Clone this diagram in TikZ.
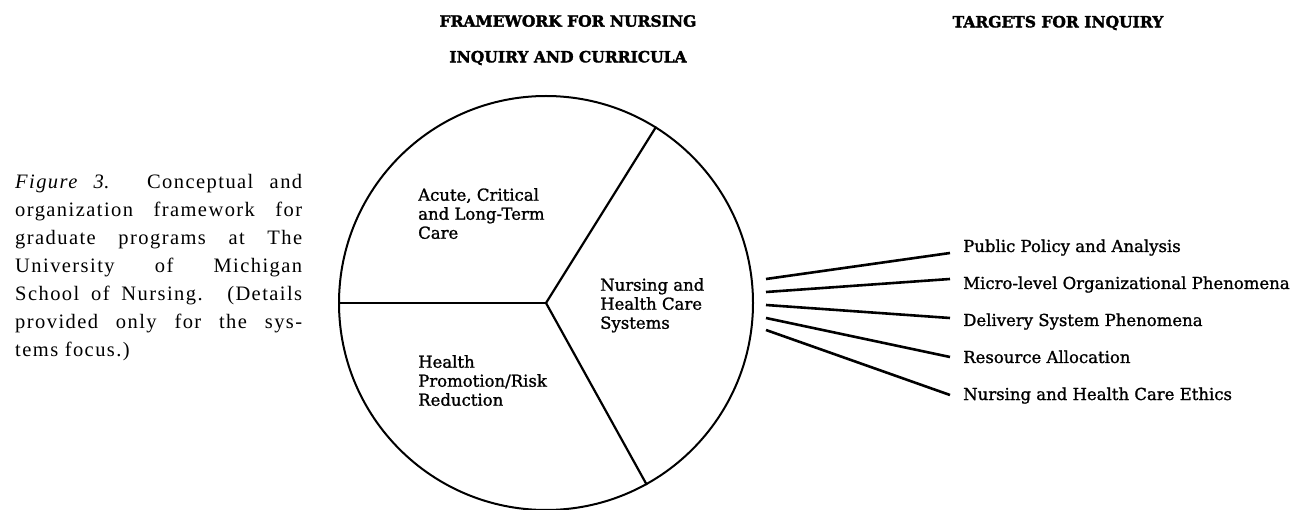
\documentclass[tikz,border=0pt]{standalone}
\usepackage{fontspec}
\setmainfont{Liberation Serif}
\newfontfamily\capfont[LetterSpace=7]{Liberation Serif}
\newfontfamily\labelfont[FakeBold=1.2]{DejaVu Serif}
\newfontfamily\headfont[UprightFont={* Bold}, FakeBold=2]{DejaVu Serif}
\begin{document}
\begin{tikzpicture}[x=1pt,y=-1pt,
  rim/.style={draw, circle, inner sep=0pt, minimum size=414pt, line width=2pt},
  spoke/.style={line width=2.2pt},
  ray/.style={line width=2.6pt},
  sector/.style={font=\labelfont\fontsize{16.5}{19}\selectfont, align=left, inner sep=0pt, anchor=north west},
  target/.style={font=\labelfont\fontsize{16.5}{19}\selectfont, inner sep=0pt, anchor=base west},
  heading/.style={font=\headfont\fontsize{15.5}{18}\selectfont, inner sep=0pt}]
\useasboundingbox (0,0) rectangle (1293,510);

% caption
\node[font=\capfont\fontsize{20.5}{28}\selectfont, text width=287pt, align=justify,
      inner sep=0pt, anchor=north west] (caption) at (15,174)
  {\textit{Figure 3}. Conceptual and\linebreak
   organization framework for\linebreak
   graduate programs at The\linebreak
   University of Michigan\linebreak
   School of Nursing. (Details\linebreak
   provided only for the sys-\linebreak
   tems focus.)};

% headings
\node[heading] (head1) at (568,21) {FRAMEWORK FOR NURSING};
\node[heading] (head2) at (568,58) {INQUIRY AND CURRICULA};
\node[heading] (head3) at (1058,23) {TARGETS FOR INQUIRY};

% the wheel and its three sectors
\node[rim] (wheel) at (546,303) {};
\draw[spoke] (wheel.center) -- (wheel.180);
\draw[spoke] (wheel.center) -- (wheel.58);
\draw[spoke] (wheel.center) -- (wheel.-61);

\node[sector] (acute) at (418,188) {Acute, Critical\\and Long-Term\\Care};
\node[sector] (systems) at (600,278) {Nursing and\\Health Care\\Systems};
\node[sector] (health) at (418,355) {Health\\Promotion/Risk\\Reduction};

% targets for inquiry
\node[target] (t1) at (963,252) {Public Policy and Analysis};
\node[target] (t2) at (963,289) {Micro-level Organizational Phenomena};
\node[target] (t3) at (963,326) {Delivery System Phenomena};
\node[target] (t4) at (963,363) {Resource Allocation};
\node[target] (t5) at (963,400) {Nursing and Health Care Ethics};

\coordinate (s1) at (766,279);
\coordinate (s2) at (766,292);
\coordinate (s3) at (766,305);
\coordinate (s4) at (766,318);
\coordinate (s5) at (766,330);
\coordinate (e1) at (950,253);
\coordinate (e2) at (950,279);
\coordinate (e3) at (950,318);
\coordinate (e4) at (950,357);
\coordinate (e5) at (950,395);

\foreach \i in {1,...,5} \draw[ray] (s\i) -- (e\i);
\end{tikzpicture}
\end{document}
